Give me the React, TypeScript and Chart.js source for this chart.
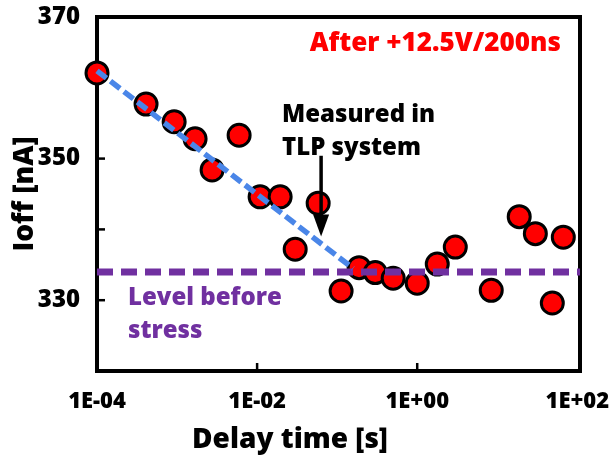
import { useEffect, useRef } from "react";
import { Chart, registerables } from "chart.js";

Chart.register(...registerables);

// ---- data ----
const delayTimes = [
  1.0e-4, 4.1e-4, 9.2e-4, 1.68e-3, 2.74e-3, 5.96e-3, 1.09e-2, 1.94e-2, 2.99e-2,
  5.79e-2, 0.112, 0.188, 0.299, 0.501, 1.0, 1.78, 2.99, 8.41, 18.8, 29.9, 48.7, 66.8,
];
const ioffValues = [
  362.1, 357.7, 355.2, 352.8, 348.4, 353.3, 344.6, 344.6, 337.2, 343.7, 331.3,
  334.6, 333.9, 333.1, 332.4, 335.1, 337.5, 331.4, 341.8, 339.4, 329.6, 338.9,
];
const trendX = [1e-4, 0.158];
const trendY = [362.4, 334.5];
const levelX = [1e-4, 108];
const levelY = [334, 334];

const xMin = 1e-4;
const xMax = 108;
const yMin = 320;
const yMax = 370;
const xTickValues = [1e-4, 1e-2, 1, 1e2];
const xTickLabels = ["1E-04", "1E-02", "1E+00", "1E+02"];
const yTickValues = [320, 330, 340, 350, 360, 370];
const yLabelValues = [330, 350, 370];
const innerXTicks = [1e-2, 1];
const innerYTicks = [330, 340, 350];

const xTitle = "Delay time [s]";
const yTitle = "Ioff [nA]";
const stressText = "After +12.5V/200ns";
const measuredLines = ["Measured in", "TLP system"];
const levelLines = ["Level before", "stress"];

// annotation anchors (data coordinates)
const stressAnchor = { x: 1.68, y: 366.3 };
const measuredAnchor = { x: 0.0205, y: [356.2, 351.5] };
const levelAnchor = { x: 2.44e-4, y: [330.3, 325.6] };
const arrowAnchor = { x: 0.063, yFrom: 350.4, yTo: 339.0 };

const FONT = "'Open Sans', 'DejaVu Sans', sans-serif";

const annotPlugin = {
  id: "annot",
  beforeDatasetsDraw(chart: any) {
    const { ctx, chartArea: a, scales } = chart;
    const x = scales.x;
    const y = scales.y;
    ctx.save();
    ctx.strokeStyle = "#000";
    ctx.lineWidth = 4;
    ctx.strokeRect(a.left, a.top, a.right - a.left, a.bottom - a.top);
    ctx.lineWidth = 2.5;
    innerXTicks.forEach((v) => {
      const px = x.getPixelForValue(v);
      ctx.beginPath();
      ctx.moveTo(px, a.bottom);
      ctx.lineTo(px, a.bottom - 8);
      ctx.stroke();
    });
    innerYTicks.forEach((v) => {
      const py = y.getPixelForValue(v);
      ctx.beginPath();
      ctx.moveTo(a.left, py);
      ctx.lineTo(a.left + 8, py);
      ctx.stroke();
    });
    ctx.restore();
  },
  afterDatasetsDraw(chart: any) {
    const { ctx, scales } = chart;
    const x = scales.x;
    const y = scales.y;
    ctx.save();
    ctx.textBaseline = "middle";

    ctx.font = `800 26px ${FONT}`;
    ctx.fillStyle = "#FF0000";
    ctx.textAlign = "center";
    ctx.fillText(stressText, x.getPixelForValue(stressAnchor.x), y.getPixelForValue(stressAnchor.y));

    ctx.font = `800 24px ${FONT}`;
    ctx.fillStyle = "#000";
    ctx.textAlign = "left";
    measuredLines.forEach((t, i) => {
      ctx.fillText(t, x.getPixelForValue(measuredAnchor.x), y.getPixelForValue(measuredAnchor.y[i]));
    });

    ctx.font = `800 24px ${FONT}`;
    ctx.fillStyle = "#7030A0";
    levelLines.forEach((t, i) => {
      ctx.fillText(t, x.getPixelForValue(levelAnchor.x), y.getPixelForValue(levelAnchor.y[i]));
    });

    // arrow
    const ax = x.getPixelForValue(arrowAnchor.x);
    const y0 = y.getPixelForValue(arrowAnchor.yFrom);
    const y1 = y.getPixelForValue(arrowAnchor.yTo);
    ctx.strokeStyle = "#000";
    ctx.fillStyle = "#000";
    ctx.lineWidth = 3.5;
    ctx.beginPath();
    ctx.moveTo(ax, y0);
    ctx.lineTo(ax, y1 - 18);
    ctx.stroke();
    ctx.beginPath();
    ctx.moveTo(ax - 8, y1 - 22);
    ctx.lineTo(ax + 8, y1 - 22);
    ctx.lineTo(ax, y1);
    ctx.closePath();
    ctx.fill();

    // x title
    ctx.font = `800 28px ${FONT}`;
    ctx.fillStyle = "#000";
    ctx.textAlign = "center";
    ctx.fillText(xTitle, 290, 440);
    ctx.restore();
  },
};

export default function App() {
  const ref = useRef<HTMLCanvasElement | null>(null);
  useEffect(() => {
    if (!ref.current) return;
    const chart = new Chart(ref.current, {
      type: "scatter",
      data: {
        datasets: [
          {
            label: "trend",
            type: "line",
            data: trendX.map((v, i) => ({ x: v, y: trendY[i] })),
            borderColor: "#4A86E8",
            borderWidth: 5.5,
            borderDash: [12, 5],
            pointRadius: 0,
            fill: false,
            order: 1,
            clip: false,
          } as any,
          {
            label: "level",
            type: "line",
            data: levelX.map((v, i) => ({ x: v, y: levelY[i] })),
            borderColor: "#7030A0",
            borderWidth: 7,
            borderDash: [16, 8],
            pointRadius: 0,
            fill: false,
            order: 1,
            clip: false,
          } as any,
          {
            label: "Ioff",
            data: delayTimes.map((v, i) => ({ x: v, y: ioffValues[i] })),
            backgroundColor: "#FF0000",
            borderColor: "#000",
            borderWidth: 3,
            pointRadius: 11,
            pointHoverRadius: 11,
            order: 2,
            clip: false,
          } as any,
        ],
      },
      options: {
        animation: false,
        responsive: false,
        maintainAspectRatio: false,
        layout: { padding: { top: 17, right: 35, left: 0, bottom: 0 } },
        plugins: { legend: { display: false }, tooltip: { enabled: false } },
        scales: {
          x: {
            type: "logarithmic",
            min: xMin,
            max: xMax,
            grid: { display: false },
            border: { display: false },
            afterBuildTicks: (s: any) => {
              s.ticks = xTickValues.map((v) => ({ value: v }));
            },
            afterFit: (s: any) => {
              s.height = 86;
              s.paddingLeft = 0;
              s.paddingRight = 0;
            },
            ticks: {
              autoSkip: false,
              maxRotation: 0,
              padding: 10,
              color: "#000",
              font: { family: FONT, size: 22, weight: "800" },
              callback: (v: any) => {
                const i = xTickValues.findIndex((t) => Math.abs(Math.log10(t) - Math.log10(v)) < 1e-6);
                return i >= 0 ? xTickLabels[i] : "";
              },
            },
          },
          y: {
            type: "linear",
            min: yMin,
            max: yMax,
            grid: { display: false },
            border: { display: false },
            afterBuildTicks: (s: any) => {
              s.ticks = yTickValues.map((v) => ({ value: v }));
            },
            afterFit: (s: any) => {
              s.width = 97;
              s.paddingTop = 0;
              s.paddingBottom = 0;
            },
            title: {
              display: true,
              text: yTitle,
              color: "#000",
              font: { family: FONT, size: 28, weight: "800" },
              padding: { top: 8, bottom: 0 },
            },
            ticks: {
              autoSkip: false,
              padding: 9,
              color: "#000",
              font: { family: FONT, size: 24, weight: "800" },
              callback: (v: any) => (yLabelValues.includes(Number(v)) ? String(v) : ""),
            },
          },
        },
      },
      plugins: [annotPlugin],
    });
    return () => chart.destroy();
  }, []);
  return (
    <div style={{ position: "absolute", left: 0, top: 0, width: 615, height: 457, background: "#fff" }}>
      <canvas ref={ref} width={615} height={457} style={{ width: 615, height: 457, display: "block" }} />
    </div>
  );
}
